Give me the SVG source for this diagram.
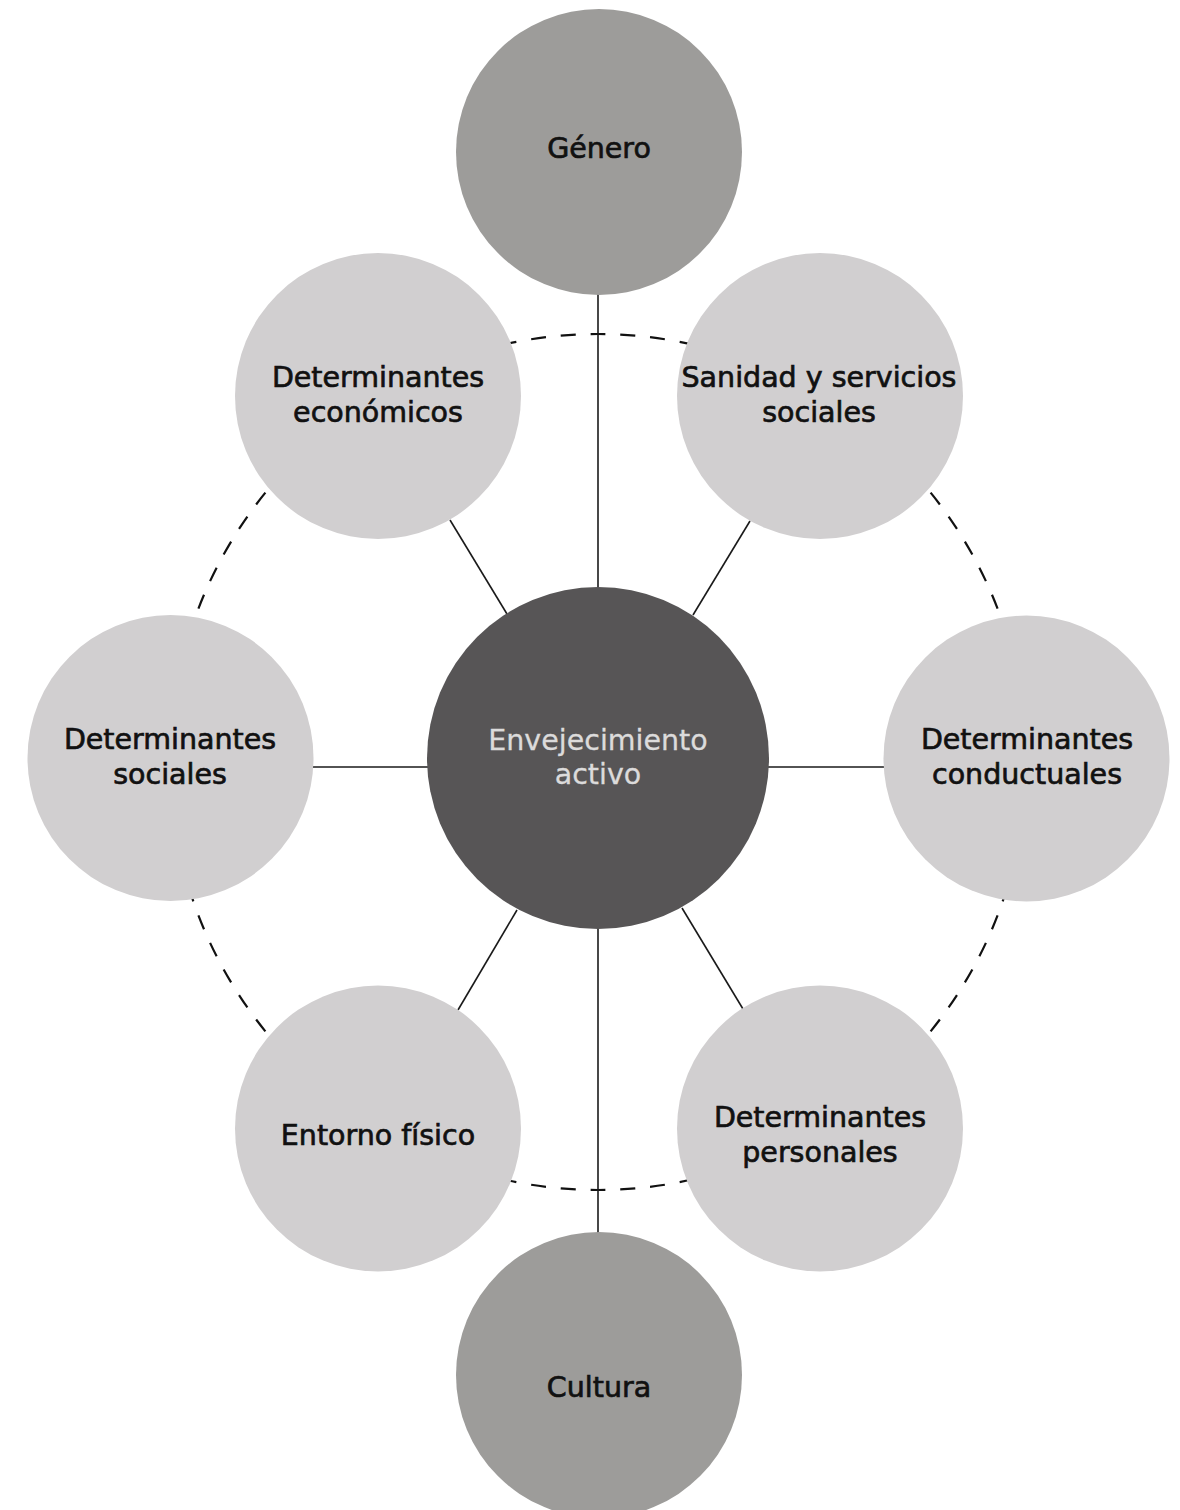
<svg xmlns="http://www.w3.org/2000/svg" width="1180" height="1510" viewBox="0 0 1180 1510">
<style>
  .light { fill: #d1cfd0; }
  .mid { fill: #9d9c9a; }
  .core { fill: #575556; }
  .lbl { font-family: "DejaVu Sans", "Liberation Sans", sans-serif; font-size: 28.5px; fill: #111111; stroke: #111111; stroke-width: 0.7; text-anchor: middle; }
  .corelbl { font-family: "DejaVu Sans", "Liberation Sans", sans-serif; font-size: 28.5px; fill: #dcdbdb; stroke: #dcdbdb; stroke-width: 0.3; text-anchor: middle; }
  .conn { stroke: #1a1a1a; stroke-width: 1.6; fill: none; }
  .ring { stroke: #111111; stroke-width: 2.2; fill: none; stroke-dasharray: 15 15; stroke-dashoffset: -7.5; }
</style>
<rect width="1180" height="1510" fill="#ffffff"/>
<g id="connectors">
  <circle class="ring" cx="598" cy="762" r="428" pathLength="2700"/>
  <line class="conn" x1="598" y1="294" x2="598" y2="590"/>
  <line class="conn" x1="598" y1="927" x2="598" y2="1234"/>
  <line class="conn" x1="311" y1="767" x2="429" y2="767"/>
  <line class="conn" x1="767" y1="767" x2="886" y2="767"/>
  <line class="conn" x1="450" y1="520" x2="507" y2="614"/>
  <line class="conn" x1="750" y1="521" x2="693" y2="615"/>
  <line class="conn" x1="682" y1="908" x2="743" y2="1009"/>
  <line class="conn" x1="517" y1="910" x2="458" y2="1010"/>
</g>
<g id="node-genero">
  <circle class="mid" cx="599" cy="152" r="143"/>
  <text class="lbl" x="599" y="158">Género</text>
</g>
<g id="node-cultura">
  <circle class="mid" cx="599" cy="1375" r="143"/>
  <text class="lbl" x="599" y="1397">Cultura</text>
</g>
<g id="node-economicos">
  <circle class="light" cx="378" cy="396" r="143"/>
  <text class="lbl" x="378" y="387">Determinantes</text>
  <text class="lbl" x="378" y="422">económicos</text>
</g>
<g id="node-sanidad">
  <circle class="light" cx="820" cy="396" r="143"/>
  <text class="lbl" x="819" y="387">Sanidad y servicios</text>
  <text class="lbl" x="819" y="422">sociales</text>
</g>
<g id="node-sociales">
  <circle class="light" cx="170.5" cy="758" r="143"/>
  <text class="lbl" x="170" y="749">Determinantes</text>
  <text class="lbl" x="170" y="784">sociales</text>
</g>
<g id="node-conductuales">
  <circle class="light" cx="1026.5" cy="758.5" r="143"/>
  <text class="lbl" x="1027" y="749">Determinantes</text>
  <text class="lbl" x="1027" y="784">conductuales</text>
</g>
<g id="node-entorno">
  <circle class="light" cx="378" cy="1128.5" r="143"/>
  <text class="lbl" x="378" y="1145">Entorno físico</text>
</g>
<g id="node-personales">
  <circle class="light" cx="820" cy="1128.5" r="143"/>
  <text class="lbl" x="820" y="1127">Determinantes</text>
  <text class="lbl" x="820" y="1162">personales</text>
</g>
<g id="node-centro">
  <circle class="core" cx="598" cy="758" r="171"/>
  <text class="corelbl" x="598" y="750">Envejecimiento</text>
  <text class="corelbl" x="598" y="784">activo</text>
</g>
</svg>
